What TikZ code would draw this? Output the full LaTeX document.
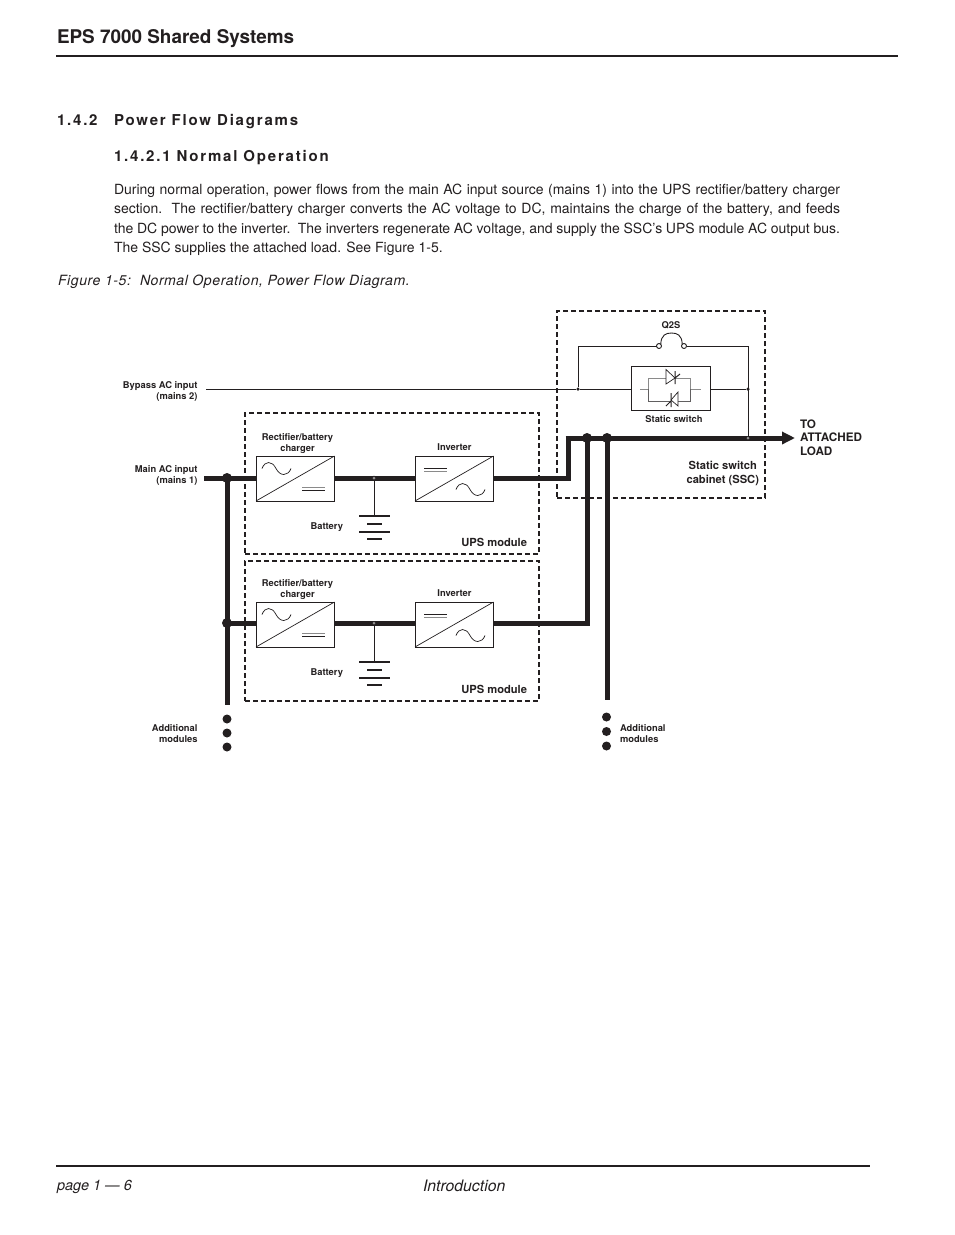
\documentclass[tikz,border=0pt]{standalone}
\usepackage{fontspec}
\setmainfont{TeX Gyre Heros}
\newfontfamily\spaced[LetterSpace=12]{TeX Gyre Heros}
\newfontfamily\capfont[LetterSpace=4]{TeX Gyre Heros}
\usetikzlibrary{arrows.meta,calc}
\definecolor{ink}{HTML}{231F20}
\definecolor{lightink}{HTML}{8A8A8A}
\tikzset{
  x=1pt,y=-1pt,
  every node/.style={inner sep=0pt,outer sep=0pt,text=ink},
  title/.style={anchor=base west,font=\fontsize{18.9}{22}\selectfont\bfseries},
  heading/.style={anchor=base west,font=\fontsize{15}{17}\spaced\bfseries},
  body/.style={anchor=north west,text width=726pt,align=justify,font=\fontsize{14}{19.5}\selectfont},
  ital/.style={anchor=base west,font=\fontsize{14.1}{16}\capfont\itshape},
  rulewide/.style={ink,line width=2pt},
  lab/.style={font=\fontsize{9.35}{11}\selectfont\bfseries,align=center},
  labr/.style={lab,align=right,anchor=east},
  labl/.style={lab,align=left,anchor=west},
  big/.style={font=\fontsize{11.15}{13.2}\selectfont\bfseries},
  dashbox/.style={draw=ink,line width=1.3pt,dash pattern=on 5pt off 3pt,minimum width=#1,anchor=north west},
  block/.style={draw=ink,line width=0.8pt,fill=white,minimum width=78.5pt,minimum height=45pt,anchor=north west},
  thin/.style={ink,line width=0.9pt},
  power/.style={ink,line width=5pt},
  glyph/.style={ink,line width=0.7pt},
  glyphg/.style={lightink,line width=1pt},
  jn/.style={circle,fill=ink,minimum size=10pt},
  tiny/.style={circle,fill=ink,minimum size=3.5pt},
  wdot/.style={circle,draw=ink,fill=white,line width=0.5pt,minimum size=3pt},
  term/.style={circle,draw=ink,fill=white,line width=0.9pt,minimum size=5pt},
  cont/.style={circle,fill=ink,minimum size=9pt},
}
\begin{document}
\begin{tikzpicture}
\useasboundingbox (0,0) rectangle (954,1235);
\fill[white] (0,0) rectangle (954,1235);

% Page furniture
\node[title] (t) at (57,43) {EPS 7000 Shared Systems};
\coordinate (r1a) at (56,56); \coordinate (r1b) at (898,56);
\draw[rulewide] (r1a) -- (r1b);
\node[heading] (h1) at (57,125) {1.4.2};
\node[heading] (h1b) at (114,125) {Power Flow Diagrams};
\node[heading] (h2) at (114,161) {1.4.2.1 Normal Operation};
\node[body] (para) at (114,184) {During normal operation, power flows from the main AC input source (mains 1) into the UPS rectifier/battery charger\linebreak section.\ \ The rectifier/battery charger converts the AC voltage to DC, maintains the charge of the battery, and feeds\linebreak the DC power to the inverter.\ \ The inverters regenerate AC voltage, and supply the SSC’s UPS module AC output bus.\linebreak The SSC supplies the attached load. See Figure 1-5.};
\node[ital] (cap) at (58,285) {Figure 1-5:\ \ Normal Operation, Power Flow Diagram.};
\coordinate (r2a) at (56,1166); \coordinate (r2b) at (870,1166);
\draw[rulewide] (r2a) -- (r2b);
\node[ital,font=\fontsize{14.5}{17}\selectfont\itshape] (pg) at (57,1190) {page 1 — 6};
\node[anchor=base west,font=\fontsize{15.8}{17}\selectfont\itshape] (intro) at (423,1191) {Introduction};

% Dashed enclosures
\node[dashbox=208pt,minimum height=187pt] (ssc) at (557,311) {};
\node[dashbox=294pt,minimum height=141pt] (ups1) at (245,413) {};
\node[dashbox=294pt,minimum height=140pt] (ups2) at (245,561) {};

% Power buses
\coordinate (mainin) at (204,478);
\coordinate (bus1) at (568,438);
\coordinate (load) at (795,438);
\coordinate (bt) at (227,478);
\coordinate (bb) at (227,705);
\coordinate (rt) at (607,438);
\coordinate (rb) at (607,700);
\coordinate (mt) at (587,438);
\draw[power] (bt) -- (bb);
\draw[power] (rt) -- (rb);

% Modules
\foreach \m/\dy/\ud in {a/0/0,b/146/147}{
  \node[block] (rec\m) at (256,456+\dy) {};
  \node[block] (inv\m) at (415,456+\dy) {};
  \draw[glyph] (rec\m.south west) -- (rec\m.north east);
  \draw[glyph] (inv\m.south west) -- (inv\m.north east);
  \node[lab] (lrec\m) at (297.5,443.5+\dy) {Rectifier/battery\\charger};
  \node[lab] (linv\m) at (454.5,447.5+\dy) {Inverter};
  \node[lab,anchor=east] (lbat\m) at (343,527.5+\dy) {Battery};
  \node[big,anchor=east] (lups\m) at (527,542+\ud) {UPS module};
  % AC and DC glyphs
  \draw[glyph,shift={(262,468.5+\dy)}] (0,0) .. controls (3,-8) and (10,-8) .. (14,0) .. controls (18,8) and (26,8) .. (29,0);
  \draw[glyphg] (302,487+\dy) -- (325,487+\dy);
  \draw[glyph] (302,490.5+\dy) -- (325,490.5+\dy);
  \draw[glyphg] (424,471.5+\dy) -- (447,471.5+\dy);
  \draw[glyph] (424,468+\dy) -- (447,468+\dy);
  \draw[glyph,shift={(456,489.5+\dy)}] (0,0) .. controls (3,-8) and (10,-8) .. (14,0) .. controls (18,8) and (26,8) .. (29,0);
  % Battery
  \coordinate (bp\m) at (374,516+\dy);
  \node[wdot] (bj\m) at (374,477.5+\dy) {};
  \coordinate (p1l\m) at (359,516+\dy); \coordinate (p1r\m) at (390,516+\dy);
  \coordinate (p2l\m) at (367,524+\dy); \coordinate (p2r\m) at (382,524+\dy);
  \coordinate (p3l\m) at (359,532+\dy); \coordinate (p3r\m) at (390,532+\dy);
  \coordinate (p4l\m) at (367,539+\dy); \coordinate (p4r\m) at (382,539+\dy);
  \draw[ink,line width=1.8pt] (p1l\m) -- (p1r\m);
  \draw[ink,line width=1.8pt] (p2l\m) -- (p2r\m);
  \draw[ink,line width=1.8pt] (p3l\m) -- (p3r\m);
  \draw[ink,line width=1.2pt] (p4l\m) -- (p4r\m);
}
% Power connectors
\coordinate (lefta) at (227,478);
\coordinate (leftb) at (227,623);
\coordinate (busdrop) at (587,623);
\draw[power,line cap=butt] (mainin) -- (reca.west |- 0,478);
\draw[power] (reca.east |- 0,478) -- (inva.west |- 0,478);
\draw[power,line join=miter] (inva.east |- 0,478) -- (568,478) -- (bus1);
\draw[power,line cap=butt,-{Triangle[length=13pt,width=12pt]}] (565.5,438) -- (load);
\draw[power] (leftb) -- (recb.west |- 0,623);
\draw[power] (recb.east |- 0,623) -- (invb.west |- 0,623);
\draw[power,line join=miter] (invb.east |- 0,623) -- (busdrop) -- (mt);
\foreach \m/\y in {a/478,b/623}{
  \draw[thin] (bj\m) -- (bp\m);
  \node[wdot] at (374,\y) {};
}
\node[jn] (ja) at (lefta) {};
\node[jn] (jb) at (leftb) {};
\node[jn] (jc) at (mt) {};
\node[jn] (jd) at (rt) {};

% Continuation dots
\node[cont] (l1) at (227,719) {}; \node[cont] (l2) at (227,733) {}; \node[cont] (l3) at (227,747) {};
\node[cont] (r1) at (606.5,717) {}; \node[cont] (r2) at (606.5,731.5) {}; \node[cont] (r3) at (606.5,746) {};

% Static switch
\node[block,minimum width=79pt,minimum height=44pt] (sw) at (631.5,366) {};
\coordinate (byp) at (206,389);
\node[tiny] (nl) at (578,389) {};
\node[tiny] (nr) at (748,389) {};
\node[wdot] (nb) at (748,438) {};
\node[term] (q1) at (659,346) {};
\node[term] (q2) at (684,346) {};
\draw[thin] (byp) -- (nl) -- (sw.west |- nl);
\draw[thin] (sw.east |- nr) -- (nr);
\draw[thin] (nl) |- (q1);
\draw[thin] (q2) -| (nb);
\draw[glyph,line width=0.9pt] (q1.north east) .. controls (661,335) and (666,333) .. (671.5,333) .. controls (677,333) and (682,335) .. (q2.north west);
% Thyristors
\draw[glyphg] (640,389) -- (648.5,389) -- (648.5,378.5) -- (666,378.5);
\draw[glyphg] (675,378.5) -- (690.5,378.5) -- (690.5,389) -- (701,389);
\draw[lightink!60!ink,line width=1pt] (648.5,389) -- (648.5,401) -- (671,401);
\draw[lightink!60!ink,line width=1pt] (678,401) -- (690.5,401) -- (690.5,389);
\draw[glyph,fill=white] (666,369.5) -- (675,378) -- (666,384) -- cycle;
\draw[glyph,line width=1pt] (675,371) -- (675,384) (675,378) -- (680,374);
\draw[glyph,fill=white] (678,392) -- (671,400) -- (678,406) -- cycle;
\draw[glyph,line width=1pt] (671,393) -- (671,407) (671,401) -- (666,406);

% Labels
\node[lab] (lq2s) at (671,325) {Q2S};
\node[lab] (lsw) at (674,419) {Static switch};
\node[big,align=center,anchor=east] (lssc) at (759,473.5) {Static switch\\cabinet (SSC)};
\node[big,font=\fontsize{11.7}{13.6}\selectfont\bfseries,align=left,anchor=west] (lload) at (800,437.5) {TO\\ATTACHED\\LOAD};
\node[labr] (lbyp) at (197.5,391.5) {Bypass AC input\\(mains 2)};
\node[labr] (lmain) at (197.5,475) {Main AC input\\(mains 1)};
\node[labr] (laddl) at (197.5,733.5) {Additional\\modules};
\node[labl] (laddr) at (620,733.5) {Additional\\modules};
\end{tikzpicture}
\end{document}
